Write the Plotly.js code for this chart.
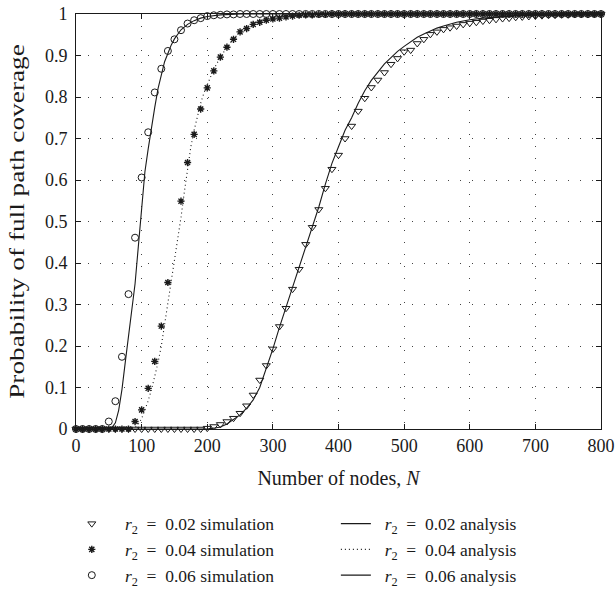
<!DOCTYPE html>
<html>
<head>
<meta charset="utf-8">
<script src="https://cdn.plot.ly/plotly-3.0.1.min.js"></script>
<style>body{margin:0;background:#fff}#chart{width:616px;height:590px}</style>
</head>
<body>
<div id="chart"></div>
<script>
// Simulation node counts
var simX = [0,10,20,30,40,50,60,70,80,90,100,110,120,130,140,150,160,170,180,190,200,
  210,220,230,240,250,260,270,280,290,300,310,320,330,340,350,360,370,380,390,400,
  410,420,430,440,450,460,470,480,490,500,510,520,530,540,550,560,570,580,590,600,
  610,620,630,640,650,660,670,680,690,700,710,720,730,740,750,760,770,780,790,800];

// r2 = 0.02 simulation
var sim02 = [0,0,0,0,0,0,0,0,0,0,0,0,0,0,0,0,0,0,0,0,0.002,
  0.006,0.011,0.018,0.026,0.038,0.056,0.082,0.118,0.153,0.193,0.247,0.291,0.337,0.385,0.445,0.486,0.529,0.58,0.626,0.66,
  0.70,0.73,0.766,0.797,0.823,0.841,0.859,0.879,0.893,0.909,0.913,0.929,0.939,0.951,0.957,0.963,0.967,0.971,0.975,0.978,
  0.98,0.983,0.985,0.987,0.989,0.99,0.992,0.993,0.994,0.995,0.996,0.997,0.997,0.998,0.998,0.999,0.999,0.999,1,1];

// r2 = 0.04 simulation (no point at N = 150)
var sim04 = [0,0,0,0,0,0,0,0,0,0.018,0.046,0.098,0.163,0.248,0.353,null,0.549,0.642,0.71,0.771,0.822,
  0.863,0.896,0.92,0.939,0.957,0.965,0.975,0.98,0.985,0.988,0.99,0.993,0.995,0.997,0.998,0.998,0.999,0.999,1,1,
  1,1,1,1,1,1,1,1,1,1,1,1,1,1,1,1,1,1,1,1,
  1,1,1,1,1,1,1,1,1,1,1,1,1,1,1,1,1,1,1,1];

// r2 = 0.06 simulation
var sim06 = [0,0,0,0,0,0.018,0.067,0.174,0.325,0.461,0.606,0.715,0.811,0.868,0.911,0.939,0.961,0.977,0.985,0.99,0.995,
  0.997,0.998,0.999,0.999,1,1,1,1,1,1,1,1,1,1,1,1,1,1,1,1,
  1,1,1,1,1,1,1,1,1,1,1,1,1,1,1,1,1,1,1,1,
  1,1,1,1,1,1,1,1,1,1,1,1,1,1,1,1,1,1,1,1];

// Analysis curves
var an02X = [0,200,210,220,230,240,250,260,270,280,290,300,310,320,330,340,350,360,370,380,390,400,410,420,430,440,450,460,470,480,490,500,510,520,530,540,550,560,570,580,590,600,620,640,660,700,750,800];
var an02Y = [0,0,0.002,0.005,0.012,0.022,0.034,0.05,0.07,0.1,0.145,0.193,0.245,0.293,0.34,0.39,0.435,0.485,0.535,0.59,0.64,0.68,0.72,0.75,0.785,0.815,0.84,0.86,0.88,0.895,0.91,0.922,0.934,0.944,0.952,0.96,0.966,0.971,0.976,0.98,0.983,0.986,0.99,0.993,0.995,0.998,0.999,1];

var an04X = [0,85,90,95,100,105,110,115,120,125,130,135,140,145,150,155,160,165,170,175,180,185,190,195,200,210,220,230,240,250,260,270,280,300,320,350,800];
var an04Y = [0,0,0.003,0.012,0.025,0.045,0.068,0.095,0.125,0.16,0.2,0.25,0.3,0.35,0.4,0.455,0.51,0.57,0.63,0.68,0.72,0.755,0.785,0.81,0.83,0.867,0.896,0.92,0.94,0.957,0.968,0.977,0.984,0.992,0.996,1,1];

var an06X = [0,50,55,60,65,70,75,80,85,90,95,100,105,110,115,120,125,130,135,140,145,150,155,160,170,180,190,200,220,250,800];
var an06Y = [0,0,0.004,0.015,0.045,0.095,0.16,0.225,0.285,0.35,0.44,0.53,0.62,0.675,0.73,0.775,0.82,0.855,0.885,0.905,0.925,0.94,0.952,0.962,0.975,0.984,0.99,0.994,0.998,1,1];

var xTicks = [0,100,200,300,400,500,600,700,800];
var yTicks = [0,0.1,0.2,0.3,0.4,0.5,0.6,0.7,0.8,0.9,1];

var eq = '&nbsp;&nbsp;=&nbsp;&nbsp;';
var simNames = [
  '&nbsp;&nbsp;&nbsp;<i>r</i><sub>2</sub>' + eq + '0.02 simulation',
  '&nbsp;&nbsp;&nbsp;<i>r</i><sub>2</sub>' + eq + '0.04 simulation',
  '&nbsp;&nbsp;&nbsp;<i>r</i><sub>2</sub>' + eq + '0.06 simulation'
];
var anNames = [
  '&nbsp;&nbsp;<i>r</i><sub>2</sub>' + eq + '0.02 analysis',
  '&nbsp;&nbsp;<i>r</i><sub>2</sub>' + eq + '0.04 analysis',
  '&nbsp;&nbsp;<i>r</i><sub>2</sub>' + eq + '0.06 analysis'
];

var ink = '#1a1a1a';
function simTrace(y, sym, size, lw, name){
  return {x: simX, y: y, name: name, type: 'scatter', mode: 'markers', cliponaxis: false, legend: 'legend',
    marker: {symbol: sym, size: size, color: ink, line: {color: ink, width: lw}}};
}
function anTrace(x, y, dash, name){
  return {x: x, y: y, name: name, type: 'scatter', mode: 'lines', cliponaxis: false, legend: 'legend2',
    line: {color: ink, width: 1.1, dash: dash}};
}

var data = [
  simTrace(sim02, 'triangle-down-open', 7, 1, simNames[0]),
  simTrace(sim04, 'asterisk-open', 6, 1.4, simNames[1]),
  simTrace(sim06, 'circle-open', 7, 1, simNames[2]),
  anTrace(an02X, an02Y, 'solid', anNames[0]),
  anTrace(an04X, an04Y, '1px,3px', anNames[1]),
  anTrace(an06X, an06Y, 'solid', anNames[2])
];

var fontFam = 'Liberation Serif, Times New Roman, serif';
var legFont = {family: fontFam, size: 17.5, color: ink};
var layout = {
  width: 616, height: 590,
  margin: {l: 76, r: 15, t: 14, b: 161, autoexpand: false},
  paper_bgcolor: '#fff', plot_bgcolor: '#fff',
  font: {family: fontFam, size: 17, color: ink},
  showlegend: true,
  legend: {orientation: 'v', x: -0.008, xanchor: 'left', y: -0.185, yanchor: 'top',
    font: legFont, bgcolor: 'rgba(0,0,0,0)', tracegroupgap: 0},
  legend2: {orientation: 'v', x: 0.495, xanchor: 'left', y: -0.185, yanchor: 'top',
    font: legFont, bgcolor: 'rgba(0,0,0,0)', tracegroupgap: 0},
  xaxis: {range: [0, 800], tickvals: xTicks, ticktext: xTicks.map(String), ticks: 'inside', ticklen: 5,
    tickcolor: ink, showline: true, linecolor: ink, linewidth: 1, mirror: 'ticks',
    showgrid: true, gridcolor: '#444', gridwidth: 1, griddash: '1px,11px', zeroline: false,
    tickfont: {family: fontFam, size: 18, color: ink},
    title: {text: 'Number of nodes, <i>N</i>', font: {family: fontFam, size: 20, color: ink}, standoff: 16}},
  yaxis: {range: [0, 1], tickvals: yTicks, ticktext: yTicks.map(String), ticks: 'inside', ticklen: 5,
    tickcolor: ink, showline: true, linecolor: ink, linewidth: 1, mirror: 'ticks',
    showgrid: true, gridcolor: '#444', gridwidth: 1, griddash: '1px,11px', zeroline: false,
    ticklabelstandoff: 4,
    tickfont: {family: fontFam, size: 18, color: ink},
    title: {text: 'Probability of full path coverage', font: {family: fontFam, size: 21, color: ink}, standoff: 14}}
};

Plotly.newPlot('chart', data, layout, {displayModeBar: false, staticPlot: true}).then(function(gd){
  // The reference's y-axis title is drawn elongated along its length
  var t = gd.querySelector('.g-ytitle text');
  if (t) {
    var x = parseFloat(t.getAttribute('x')), y = parseFloat(t.getAttribute('y'));
    t.setAttribute('transform', 'translate(' + x + ',' + y + ') scale(1,1.3) translate(' + (-x) + ',' + (-y) + ') rotate(-90,' + x + ',' + y + ')');
  }
});
</script>
</body>
</html>
